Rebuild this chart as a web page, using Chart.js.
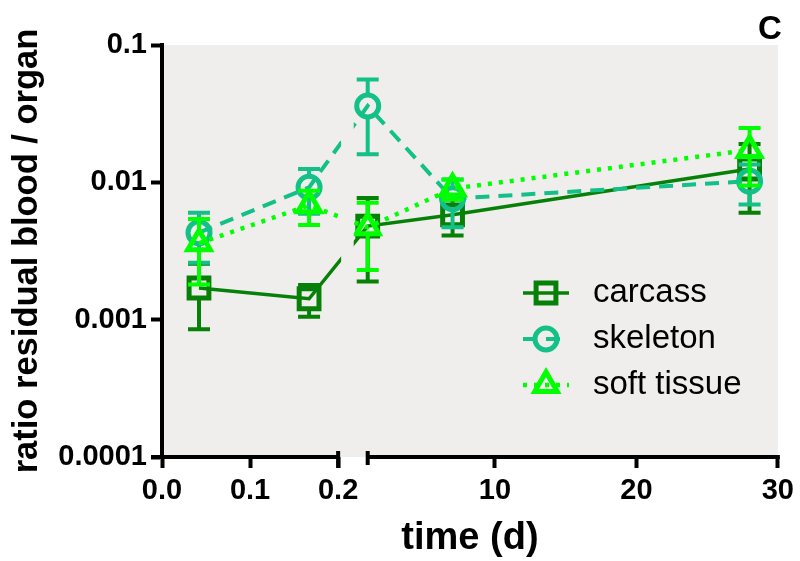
<!DOCTYPE html>
<html>
<head>
<meta charset="utf-8">
<title>ratio residual blood / organ</title>
<script src="https://cdn.jsdelivr.net/npm/chart.js@4.4.1/dist/chart.umd.min.js"></script>
<style>
  html, body { margin: 0; padding: 0; background: #fff; }
  #wrap { width: 800px; height: 561px; }
</style>
</head>
<body>
<div id="wrap"><canvas id="chart" width="800" height="561"></canvas></div>
<script>
// Data (time in days, ratio on a log axis)
const xDays = [0.042, 0.167, 1, 7, 28];

const carcass     = [0.0017, 0.00142, 0.0048, 0.0058, 0.0125];
const carcassErr  = [0.00085, 0.00037, 0.0029, 0.0017, 0.0065];
const skeleton    = [0.0043, 0.0092, 0.036, 0.0076, 0.0102];
const skeletonErr = [0.0017, 0.0033, 0.020, 0.0029, 0.0033];
const soft        = [0.0036, 0.0068, 0.0047, 0.0090, 0.0172];
const softErr     = [0.0018, 0.0019, 0.0024, 0.0015, 0.0077];

const seriesNames = ["carcass", "skeleton", "soft tissue"];

const xTickValues = [0, 0.1, 0.2, 10, 20, 30];
const xTickLabels = ["0.0", "0.1", "0.2", "10", "20", "30"];
const yTickValues = [0.0001, 0.001, 0.01, 0.1];
const yTickLabels = ["0.0001", "0.001", "0.01", "0.1"];

// axis break: values 0..0.2 fill the first part, 1..30 the rest
const breakFrom = 0.2, breakTo = 1;
const fracFrom = 0.286, fracTo = 0.334;

const FONT = "'Liberation Sans', Arial, Helvetica, sans-serif";

// Linear scale with a gap between breakFrom and breakTo
class BrokenLinearScale extends Chart.LinearScale {
  valueToDecimal(v) {
    if (v <= breakFrom) return (v - this.min) / (breakFrom - this.min) * fracFrom;
    if (v >= breakTo) return fracTo + (v - breakTo) / (this.max - breakTo) * (1 - fracTo);
    return fracFrom + (v - breakFrom) / (breakTo - breakFrom) * (fracTo - fracFrom);
  }
  getPixelForValue(value) {
    return this.getPixelForDecimal(this.valueToDecimal(value));
  }
  getValueForPixel(pixel) {
    const d = this.getDecimalForPixel(pixel);
    if (d <= fracFrom) return this.min + d / fracFrom * (breakFrom - this.min);
    if (d >= fracTo) return breakTo + (d - fracTo) / (1 - fracTo) * (this.max - breakTo);
    return breakFrom + (d - fracFrom) / (fracTo - fracFrom) * (breakTo - breakFrom);
  }
}
BrokenLinearScale.id = "brokenLinear";
BrokenLinearScale.defaults = Chart.LinearScale.defaults;
Chart.register(BrokenLinearScale);

function pts(ys) { return xDays.map((x, i) => ({ x: x, y: ys[i] })); }

const errors = [carcassErr, skeletonErr, softErr];
const markerHalf = [12, 13, 8];

// gray plot area + white page
const backgroundPlugin = {
  id: "bg",
  beforeDraw(chart) {
    const { ctx, chartArea: a } = chart;
    ctx.save();
    ctx.fillStyle = "#fff";
    ctx.fillRect(0, 0, chart.width, chart.height);
    ctx.fillStyle = "#efeeec";
    ctx.fillRect(a.left, a.top, a.right - a.left, a.bottom - a.top);
    ctx.restore();
  }
};

// hide the lines inside the axis break
const gapClipPlugin = {
  id: "gapClip",
  beforeDatasetsDraw(chart) {
    const { ctx } = chart;
    const xs = chart.scales.x;
    const g0 = xs.getPixelForValue(breakFrom) + 3;
    const g1 = xs.getPixelForValue(breakTo) - 14;
    ctx.save();
    ctx.beginPath();
    ctx.rect(0, 0, g0, chart.height);
    ctx.rect(g1, 0, chart.width - g1, chart.height);
    ctx.clip();
  },
  afterDatasetsDraw(chart) {
    chart.ctx.restore();
  }
};

// error bars, drawn outward from the edge of each symbol
const errorBarPlugin = {
  id: "errorBars",
  beforeDatasetDraw(chart, args) {
    const i = args.index;
    const ds = chart.data.datasets[i];
    const err = errors[i];
    const ys = chart.scales.y;
    const ctx = chart.ctx;
    const half = markerHalf[i];
    ctx.save();
    ctx.strokeStyle = ds.borderColor;
    ctx.lineWidth = 4;
    ctx.setLineDash([]);
    args.meta.data.forEach((p, j) => {
      const v = ds.data[j].y;
      const top = ys.getPixelForValue(v + err[j]);
      const bot = ys.getPixelForValue(v - err[j]);
      ctx.beginPath();
      if (top < p.y - half) { ctx.moveTo(p.x, top); ctx.lineTo(p.x, p.y - half); }
      if (bot > p.y + half) { ctx.moveTo(p.x, p.y + half); ctx.lineTo(p.x, bot); }
      ctx.moveTo(p.x - 11, top); ctx.lineTo(p.x + 11, top);
      ctx.moveTo(p.x - 11, bot); ctx.lineTo(p.x + 11, bot);
      ctx.stroke();
    });
    ctx.restore();
  }
};

// broken x axis line, legend and panel letter
const decorPlugin = {
  id: "decor",
  afterDraw(chart) {
    const { ctx, chartArea: a } = chart;
    const xs = chart.scales.x;
    const y0 = a.bottom;
    const pFrom = xs.getPixelForValue(breakFrom);
    const pTo = xs.getPixelForValue(breakTo);
    ctx.save();
    ctx.strokeStyle = "#000";
    ctx.lineWidth = 4;
    ctx.beginPath();
    ctx.moveTo(a.left - 11, y0); ctx.lineTo(pFrom, y0);
    ctx.moveTo(pTo, y0); ctx.lineTo(a.right + 2, y0);
    ctx.moveTo(pFrom, y0 - 6); ctx.lineTo(pFrom, y0 + 11);
    ctx.moveTo(pTo, y0 - 6); ctx.lineTo(pTo, y0 + 8);
    ctx.stroke();

    // legend
    const lx = 546, ly0 = 293, step = 46;
    chart.data.datasets.forEach((ds, i) => {
      const y = ly0 + i * step;
      ctx.strokeStyle = ds.borderColor;
      ctx.lineWidth = ds.borderWidth;
      ctx.setLineDash(ds.borderDash || []);
      ctx.beginPath();
      ctx.moveTo(lx - 23, y); ctx.lineTo(lx + 23, y);
      ctx.stroke();
      ctx.setLineDash([]);
      ctx.fillStyle = "rgba(0,0,0,0)";
      ctx.lineWidth = ds.pointBorderWidth;
      Chart.helpers.drawPoint(ctx, {
        pointStyle: ds.pointStyle, radius: ds.pointRadius,
        borderWidth: ds.pointBorderWidth, rotation: 0
      }, lx, y);
      ctx.fillStyle = "#000";
      ctx.font = "33px " + FONT;
      ctx.textBaseline = "middle";
      ctx.textAlign = "left";
      ctx.fillText(ds.label, 593, y);
    });

    ctx.font = "bold 33px " + FONT;
    ctx.fillStyle = "#000";
    ctx.textAlign = "center";
    ctx.textBaseline = "middle";
    ctx.fillText("C", 770, 30);
    ctx.restore();
  }
};

new Chart(document.getElementById("chart"), {
  type: "line",
  data: {
    datasets: [
      {
        label: seriesNames[0], data: pts(carcass), order: 3,
        borderColor: "#078007", borderWidth: 3.5,
        pointStyle: "rect", pointRadius: 14, pointBorderWidth: 5,
        pointBackgroundColor: "rgba(0,0,0,0)", pointBorderColor: "#078007"
      },
      {
        label: seriesNames[1], data: pts(skeleton), order: 2,
        borderColor: "#12c088", borderWidth: 4, borderDash: [14, 9],
        pointStyle: "circle", pointRadius: 11, pointBorderWidth: 5,
        pointBackgroundColor: "rgba(0,0,0,0)", pointBorderColor: "#12c088"
      },
      {
        label: seriesNames[2], data: pts(soft), order: 1,
        borderColor: "#00ff00", borderWidth: 4.5, borderDash: [4, 7],
        pointStyle: "triangle", pointRadius: 13, pointBorderWidth: 5,
        pointBackgroundColor: "rgba(0,0,0,0)", pointBorderColor: "#00ff00"
      }
    ]
  },
  options: {
    responsive: false,
    animation: false,
    layout: { padding: { top: 45, right: 22, left: 0, bottom: 0 } },
    plugins: { legend: { display: false }, tooltip: { enabled: false } },
    elements: { line: { tension: 0 } },
    scales: {
      x: {
        type: "brokenLinear",
        min: 0, max: 30,
        afterBuildTicks: s => { s.ticks = xTickValues.map(v => ({ value: v })); },
        afterFit: s => { s.height = 104; },
        border: { display: false },
        grid: { drawOnChartArea: false, color: "#000", tickLength: 11, tickWidth: 4 },
        ticks: {
          autoSkip: false, maxRotation: 0, padding: 6, color: "#000",
          font: { family: FONT, size: 29, weight: "bold" },
          callback: (v, i) => xTickLabels[i]
        },
        title: {
          display: true, text: "time (d)", color: "#000",
          font: { family: FONT, size: 38, weight: "bold" },
          padding: { top: 0, bottom: 0 }
        }
      },
      y: {
        type: "logarithmic",
        min: 0.0001, max: 0.1,
        afterBuildTicks: s => { s.ticks = yTickValues.map(v => ({ value: v })); },
        afterFit: s => { s.width = 162; },
        border: { display: true, color: "#000", width: 4 },
        grid: { drawOnChartArea: false, color: "#000", tickLength: 11, tickWidth: 4 },
        ticks: {
          autoSkip: false, padding: 4, color: "#000",
          font: { family: FONT, size: 29, weight: "bold" },
          callback: (v, i) => yTickLabels[i]
        },
        title: {
          display: true, text: "ratio residual blood / organ", color: "#000",
          font: { family: FONT, size: 34.5, weight: "bold" },
          padding: { top: 7, bottom: 0 }
        }
      }
    }
  },
  plugins: [backgroundPlugin, gapClipPlugin, errorBarPlugin, decorPlugin]
});
</script>
</body>
</html>
